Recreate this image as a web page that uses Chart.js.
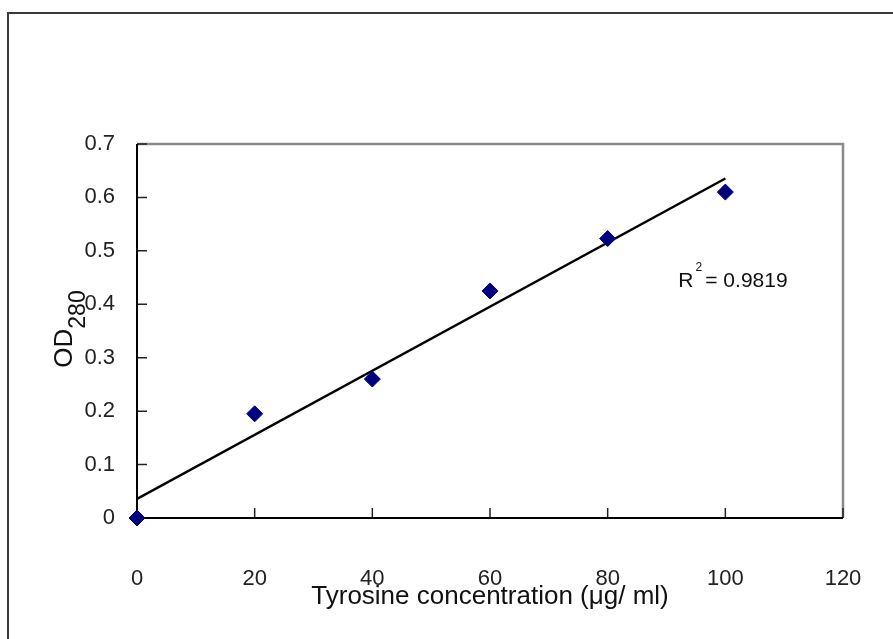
<!DOCTYPE html>
<html>
<head>
<meta charset="utf-8">
<script src="https://cdn.jsdelivr.net/npm/chart.js@4.4.0/dist/chart.umd.min.js"></script>
<style>
html, body { margin: 0; padding: 0; background: #fff; }
#wrap { width: 893px; height: 639px; }
</style>
</head>
<body>
<div id="wrap"><canvas id="chart" width="893" height="639"></canvas></div>
<script>
// standard curve values
const concentrations = [0, 20, 40, 60, 80, 100];
const absorbance = [0, 0.195, 0.26, 0.425, 0.523, 0.61];
const xTicks = [0, 20, 40, 60, 80, 100, 120];
const yTicks = [0, 0.1, 0.2, 0.3, 0.4, 0.5, 0.6, 0.7];
const rSquared = '0.9819';

const FONT = "'Liberation Sans', Arial, sans-serif";

function linearFit(xs, ys) {
    const n = xs.length;
    const mx = xs.reduce((a, b) => a + b, 0) / n;
    const my = ys.reduce((a, b) => a + b, 0) / n;
    let sxy = 0, sxx = 0;
    for (let i = 0; i < n; i++) {
        sxy += (xs[i] - mx) * (ys[i] - my);
        sxx += (xs[i] - mx) * (xs[i] - mx);
    }
    const slope = sxy / sxx;
    return { slope: slope, intercept: my - slope * mx };
}

const fit = linearFit(concentrations, absorbance);
const xFirst = concentrations[0];
const xLast = concentrations[concentrations.length - 1];
const trendPoints = [
    { x: xFirst, y: fit.intercept + fit.slope * xFirst },
    { x: xLast, y: fit.intercept + fit.slope * xLast }
];

const framePlugin = {
    id: 'frame',
    beforeDatasetsDraw(chart) {
        const ctx = chart.ctx;
        const a = chart.chartArea;
        const xs = chart.scales.x, ys = chart.scales.y;
        ctx.save();
        // outer chart border (runs off the right and bottom of the picture)
        ctx.lineWidth = 2;
        ctx.strokeStyle = '#3a3a3a';
        ctx.beginPath();
        ctx.moveTo(8, 660);
        ctx.lineTo(8, 13);
        ctx.lineTo(900, 13);
        ctx.stroke();
        // gray top and right of plot area
        ctx.strokeStyle = '#8a8a8a';
        ctx.lineWidth = 2.5;
        ctx.beginPath();
        ctx.moveTo(a.left, a.top);
        ctx.lineTo(a.right, a.top);
        ctx.lineTo(a.right, a.bottom);
        ctx.stroke();
        // tick marks pointing inward
        ctx.strokeStyle = '#222';
        ctx.lineWidth = 1.5;
        ctx.beginPath();
        xTicks.forEach(v => {
            const px = xs.getPixelForValue(v);
            ctx.moveTo(px, a.bottom);
            ctx.lineTo(px, a.bottom - 10);
        });
        yTicks.forEach(v => {
            const py = ys.getPixelForValue(v);
            ctx.moveTo(a.left, py);
            ctx.lineTo(a.left + 10, py);
        });
        ctx.stroke();
        // black axes
        ctx.strokeStyle = '#000';
        ctx.lineWidth = 2;
        ctx.beginPath();
        ctx.moveTo(a.left, a.top);
        ctx.lineTo(a.left, a.bottom);
        ctx.lineTo(a.right, a.bottom);
        ctx.stroke();
        ctx.restore();
    },
    afterDraw(chart) {
        const ctx = chart.ctx;
        const a = chart.chartArea;
        const xs = chart.scales.x, ys = chart.scales.y;
        ctx.save();
        ctx.fillStyle = '#111';
        // x title
        ctx.font = '26px ' + FONT;
        ctx.textAlign = 'center';
        ctx.textBaseline = 'alphabetic';
        ctx.fillText('Tyrosine concentration (\u03bcg/ ml)', (a.left + a.right) / 2, 604);
        // y title with subscript
        ctx.textAlign = 'left';
        const main = 'OD', sub = '280';
        ctx.font = '26px ' + FONT;
        const w1 = ctx.measureText(main).width;
        ctx.font = '23px ' + FONT;
        const w2 = ctx.measureText(sub).width;
        ctx.translate(72, (a.top + a.bottom) / 2 - 2);
        ctx.rotate(-Math.PI / 2);
        ctx.font = '26px ' + FONT;
        ctx.fillText(main, -(w1 + w2) / 2, 0);
        ctx.font = '23px ' + FONT;
        ctx.fillText(sub, -(w1 + w2) / 2 + w1, 13);
        ctx.restore();
        // R squared label
        ctx.save();
        ctx.fillStyle = '#111';
        ctx.textBaseline = 'alphabetic';
        ctx.textAlign = 'left';
        const rx = xs.getPixelForValue(92);
        const ry = ys.getPixelForValue(0.433);
        ctx.font = '21px ' + FONT;
        ctx.fillText('R', rx, ry);
        const wr = ctx.measureText('R').width;
        ctx.font = '12px ' + FONT;
        ctx.fillText('2', rx + wr + 2, ry - 16);
        ctx.font = '21px ' + FONT;
        ctx.fillText(' = ' + rSquared, rx + wr + 6, ry);
        ctx.restore();
    }
};

new Chart(document.getElementById('chart'), {
    type: 'scatter',
    data: {
        datasets: [{
            label: 'OD280',
            data: concentrations.map((c, i) => ({ x: c, y: absorbance[i] })),
            pointStyle: 'rectRot',
            pointRadius: 8,
            pointHoverRadius: 8,
            backgroundColor: '#000080',
            borderColor: '#000080',
            borderWidth: 1,
            clip: false,
            order: 1
        }, {
            type: 'line',
            label: 'Linear fit',
            data: trendPoints,
            borderColor: '#000',
            borderWidth: 2.5,
            pointRadius: 0,
            fill: false,
            order: 2
        }]
    },
    options: {
        responsive: false,
        animation: false,
        events: [],
        layout: { padding: { top: 144, right: 50, left: 0, bottom: 0 } },
        plugins: {
            legend: { display: false },
            tooltip: { enabled: false }
        },
        scales: {
            x: {
                type: 'linear',
                min: 0,
                max: 120,
                afterFit: s => {
                    s.height = 121;
                    s.paddingLeft = 0;
                    s.paddingRight = 0;
                },
                afterBuildTicks: s => { s.ticks = xTicks.map(v => ({ value: v })); },
                grid: { display: false, drawTicks: false },
                border: { display: false },
                ticks: {
                    padding: 48,
                    color: '#222',
                    font: { family: FONT, size: 22 },
                    maxRotation: 0
                }
            },
            y: {
                min: 0,
                max: 0.7,
                afterFit: s => { s.width = 137; },
                afterBuildTicks: s => { s.ticks = yTicks.map(v => ({ value: v })); },
                grid: { display: false, drawTicks: false },
                border: { display: false },
                ticks: {
                    padding: 22,
                    color: '#222',
                    font: { family: FONT, size: 22 },
                    callback: v => String(+v.toFixed(1))
                }
            }
        }
    },
    plugins: [framePlugin]
});
</script>
</body>
</html>
